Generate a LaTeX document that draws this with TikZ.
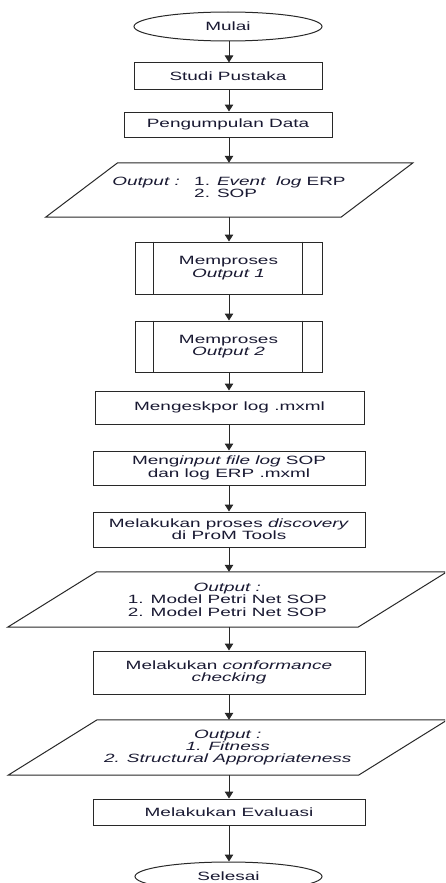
\documentclass[tikz,border=0pt]{standalone}
\usepackage{fontspec}
\setmainfont{Liberation Sans}[FakeStretch=1.58]
\usetikzlibrary{shapes.geometric,arrows.meta}
\definecolor{ln}{RGB}{40,40,40}
\definecolor{tx}{RGB}{25,25,50}
\begin{document}
\begin{tikzpicture}[x=1pt,y=-1pt,
  every node/.style={font=\fontsize{12}{12.4}\selectfont, text=tx, align=center, inner sep=0pt},
  box/.style={draw=ln, line width=1pt, rectangle},
  term/.style={draw=ln, line width=1pt, ellipse},
  plain/.style={rectangle},
  outl/.style={draw=ln, line width=1pt},
  arr/.style={draw=ln, line width=1pt, -{Triangle[width=8.5pt,length=7pt]}}]
\useasboundingbox (0,0) rectangle (445,883);
\fill[white] (0,0) rectangle (445,883);
\begin{scope}
\clip (0,0) rectangle (445,883);
\coordinate (col) at (229,0);

\node[term, minimum width=188pt, minimum height=29pt] (mulai) at (228,26.5) {Mulai};
\node[box, minimum width=188pt, minimum height=26pt] (studi) at (228,76) {Studi Pustaka};
\node[box, minimum width=208pt, minimum height=25pt] (kumpul) at (228,124.5) {Pengumpulan Data};

% parallelogram 1
\node[plain, minimum width=295pt, minimum height=54pt] (out1) at (229.3,190) {};
\draw[outl] ([xshift=36pt]out1.north west) -- ([xshift=36pt]out1.north east)
  -- ([xshift=-36pt]out1.south east) -- ([xshift=-36pt]out1.south west) -- cycle;
\node[plain, anchor=center] (out1t) at (229,189) {\textit{Output :}\hspace{1.2em}\begin{tabular}[t]{@{}l@{}}1. \textit{Event\ \ log} ERP\\2. SOP\end{tabular}};

\node[box, minimum width=187pt, minimum height=52pt] (proc1) at (228.5,268) {Memproses\\\textit{Output 1}};
\draw[outl] ([xshift=19pt]proc1.north west) -- ([xshift=19pt]proc1.south west);
\draw[outl] ([xshift=-20pt]proc1.north east) -- ([xshift=-20pt]proc1.south east);

\node[box, minimum width=187pt, minimum height=51pt] (proc2) at (228.5,346.5) {Memproses\\\textit{Output 2}};
\draw[outl] ([xshift=19pt]proc2.north west) -- ([xshift=19pt]proc2.south west);
\draw[outl] ([xshift=-20pt]proc2.north east) -- ([xshift=-20pt]proc2.south east);

\node[box, minimum width=269pt, minimum height=33pt] (ekspor) at (229.5,407.5) {Mengeskpor log .mxml};
\node[box, minimum width=272pt, minimum height=34pt] (input) at (229,468) {Meng\textit{input file log} SOP\\dan log ERP .mxml};
\node[box, minimum width=272pt, minimum height=35pt] (disc) at (229,529.5) {Melakukan proses \textit{discovery}\\di ProM Tools};

% parallelogram 2
\node[plain, minimum width=350pt, minimum height=55pt] (out2) at (227.3,599.5) {\textit{Output :}\\1. Model Petri Net SOP\\2. Model Petri Net SOP};
\draw[outl] ([xshift=44.5pt]out2.north west) -- ([xshift=44.5pt]out2.north east)
  -- ([xshift=-44.5pt]out2.south east) -- ([xshift=-44.5pt]out2.south west) -- cycle;

\node[box, minimum width=272pt, minimum height=43pt] (conf) at (229,672.5) {Melakukan \textit{conformance}\\\textit{checking}};

% parallelogram 3
\node[plain, minimum width=350pt, minimum height=55pt] (out3) at (227.8,747.5) {\textit{Output :}\\\textit{1. Fitness}\\\textit{2. Structural Appropriateness}};
\draw[outl] ([xshift=44.5pt]out3.north west) -- ([xshift=44.5pt]out3.north east)
  -- ([xshift=-44.5pt]out3.south east) -- ([xshift=-44.5pt]out3.south west) -- cycle;

\node[box, minimum width=272pt, minimum height=26pt] (eval) at (229,812) {Melakukan Evaluasi};
\node[term, minimum width=187pt, minimum height=29pt] (selesai) at (228.5,876.5) {Selesai};

\draw[arr] (mulai.south -| col) -- (studi.north -| col);
\draw[arr] (studi.south -| col) -- (kumpul.north -| col);
\draw[arr] (kumpul.south -| col) -- (out1.north -| col);
\draw[arr] (out1.south -| col) -- (proc1.north -| col);
\draw[arr] (proc1.south -| col) -- (proc2.north -| col);
\draw[arr] (proc2.south -| col) -- (ekspor.north -| col);
\draw[arr] (ekspor.south -| col) -- (input.north -| col);
\draw[arr] (input.south -| col) -- (disc.north -| col);
\draw[arr] (disc.south -| col) -- (out2.north -| col);
\draw[arr] (out2.south -| col) -- (conf.north -| col);
\draw[arr] (conf.south -| col) -- (out3.north -| col);
\draw[arr] (out3.south -| col) -- (eval.north -| col);
\draw[arr] (eval.south -| col) -- (selesai.north -| col);
\end{scope}
\end{tikzpicture}
\end{document}
